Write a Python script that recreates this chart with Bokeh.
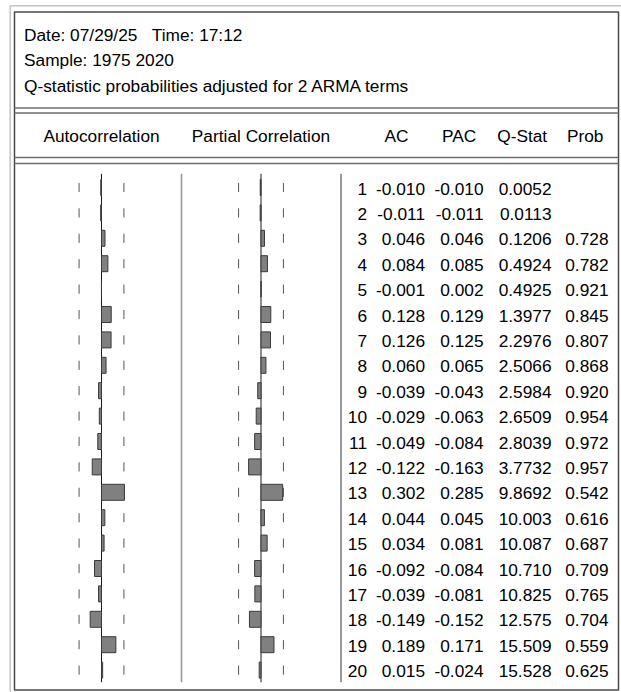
import math
from bokeh.plotting import figure
from bokeh.models import Range1d, ColumnDataSource
from bokeh.core.properties import value
from bokeh.embed import file_html
from bokeh.resources import INLINE

# ---------------- data ----------------
title_lines = ["Date: 07/29/25\u00a0\u00a0\u00a0Time: 17:12",
               "Sample: 1975 2020",
               "Q-statistic probabilities adjusted for 2 ARMA terms"]
panel_headers = ["Autocorrelation", "Partial Correlation"]
col_headers = ["AC", "PAC", "Q-Stat", "Prob"]
nobs = 46
lags = list(range(1, 21))
ac = [-0.010, -0.011, 0.046, 0.084, -0.001, 0.128, 0.126, 0.060, -0.039, -0.029,
      -0.049, -0.122, 0.302, 0.044, 0.034, -0.092, -0.039, -0.149, 0.189, 0.015]
pac = [-0.010, -0.011, 0.046, 0.085, 0.002, 0.129, 0.125, 0.065, -0.043, -0.063,
       -0.084, -0.163, 0.285, 0.045, 0.081, -0.084, -0.081, -0.152, 0.171, -0.024]
qstat = [0.0052, 0.0113, 0.1206, 0.4924, 0.4925, 1.3977, 2.2976, 2.5066, 2.5984, 2.6509,
         2.8039, 3.7732, 9.8692, 10.003, 10.087, 10.710, 10.825, 12.575, 15.509, 15.528]
prob = [None, None, 0.728, 0.782, 0.921, 0.845, 0.807, 0.868, 0.920, 0.954,
        0.972, 0.957, 0.542, 0.616, 0.687, 0.709, 0.765, 0.704, 0.559, 0.625]

# ---------------- layout ----------------
FONT = "Liberation Sans"
FS = "17.3px"
TXT = "#000000"
W, H = 621, 692
X0, Y0 = 0, 0                      # screen offset of the figure
PX_PER_UNIT = 76.0                 # pixels per correlation unit
AC_CX, PAC_CX = 101.0, 260.5       # screen x of zero line in each panel
ROW0, ROWH = 187.0, 25.4           # screen y of lag 1 and row pitch

conf = 2.0 / math.sqrt(nobs)

p = figure(width=W, height=H, output_backend="svg", toolbar_location=None,
           x_range=Range1d(X0, X0 + W), y_range=Range1d(Y0 + H, Y0),
           x_axis_location=None, y_axis_location=None, min_border=0,
           background_fill_color="white", border_fill_color="white")
p.grid.visible = False
p.outline_line_color = None

p.extra_x_ranges = {
    "ac": Range1d((X0 - AC_CX) / PX_PER_UNIT, (X0 + W - AC_CX) / PX_PER_UNIT),
    "pac": Range1d((X0 - PAC_CX) / PX_PER_UNIT, (X0 + W - PAC_CX) / PX_PER_UNIT),
}
p.extra_y_ranges = {
    "lag": Range1d(1 + (Y0 + H - ROW0) / ROWH, 1 + (Y0 - ROW0) / ROWH),
}

# ---------------- frame ----------------
p.segment(x0=[9.7, 9.7], y0=[5.3, 5.3], x1=[621, 9.7], y1=[5.3, 692],
          line_color="#c4c4c4", line_width=1.5)
p.quad(left=14, right=618, top=11.5, bottom=689.5, fill_color=None,
       line_color="#4a4a4a", line_width=1.5)
for yy in [107.5, 112.5, 157.0, 163.0]:
    p.segment(x0=14, x1=618, y0=yy, y1=yy, line_color="#6e6e6e", line_width=1.3)

# title lines
p.text(x=[23.5] * 3, y=[34.5, 59.8, 85.0], text=title_lines,
       text_font=value(FONT), text_font_size=FS, text_color=TXT,
       text_align="left", text_baseline="middle")

# headers
p.text(x=[AC_CX, PAC_CX], y=[135.5, 135.5], text=panel_headers,
       text_font=value(FONT), text_font_size=FS, text_color=TXT,
       text_align="center", text_baseline="middle")
p.text(x=[396.0, 458.7, 521.7, 584.7], y=[135.5] * 4, text=col_headers,
       text_font=value(FONT), text_font_size=FS, text_color=TXT,
       text_align="center", text_baseline="middle")

# ---------------- panels ----------------
top_lag, bot_lag = 0.46, 20.48
p.segment(x0=181, x1=181, y0=173.3, y1=681.7, line_color="#9a9a9a", line_width=1.6)
p.segment(x0=340.5, x1=340.5, y0=173.3, y1=681.7, line_color="#333333", line_width=1.0)

src = ColumnDataSource(dict(
    lag=lags, ac=ac, pac=pac,
    d0=[l - 0.18 for l in lags], d1=[l + 0.18 for l in lags],
    lo=[-conf] * len(lags), hi=[conf] * len(lags),
    lag_s=[str(l) for l in lags],
    ac_s=["%.3f" % v for v in ac],
    pac_s=["%.3f" % v for v in pac],
    q_s=[("%.4f" % v) if v < 10 else ("%.3f" % v) for v in qstat],
    pr_s=[("%.3f" % v) if v is not None else "" for v in prob],
))

for rname, col in [("ac", "ac"), ("pac", "pac")]:
    p.segment(x0=0, x1=0, y0=top_lag, y1=bot_lag, x_range_name=rname, y_range_name="lag",
              line_color="#1a1a1a", line_width=1.0)
    p.segment(x0="lo", x1="lo", y0="d0", y1="d1", source=src, x_range_name=rname,
              y_range_name="lag", line_color="#555555", line_width=1.0)
    p.segment(x0="hi", x1="hi", y0="d0", y1="d1", source=src, x_range_name=rname,
              y_range_name="lag", line_color="#555555", line_width=1.0)
    p.hbar(y="lag", left=0, right=col, height=0.63, source=src, x_range_name=rname,
           y_range_name="lag", fill_color="#808080", line_color="#3a3a3a", line_width=1.0)

# ---------------- table ----------------
for xr, field in [(366.5, "lag_s"), (424.5, "ac_s"), (483.0, "pac_s"),
                  (551.0, "q_s"), (608.0, "pr_s")]:
    p.text(x=xr, y="lag", text=field, source=src, y_range_name="lag", y_offset=1.0,
           text_font=value(FONT), text_font_size=FS, text_color=TXT,
           text_align="right", text_baseline="middle")

open("out.html", "w").write(file_html(p, INLINE))
